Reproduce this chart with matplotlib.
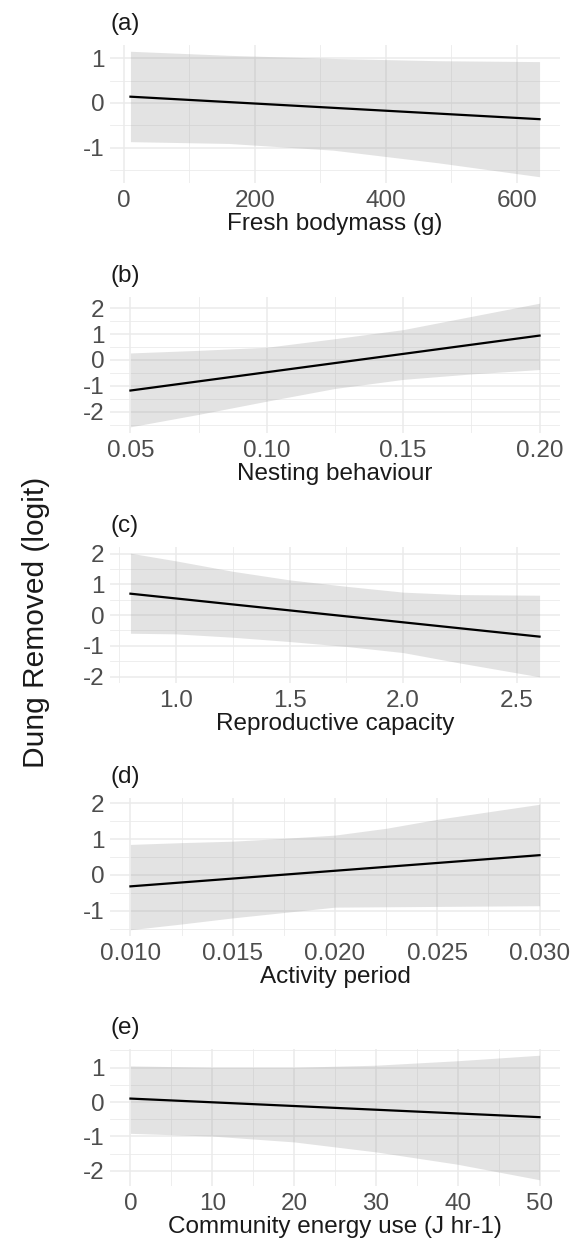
import matplotlib
matplotlib.use("Agg")
import matplotlib.pyplot as plt
from matplotlib.ticker import MultipleLocator, FormatStrFormatter

plt.rcParams['font.family'] = ['Liberation Sans', 'DejaVu Sans']
plt.rcParams['axes.unicode_minus'] = False

# (a) fresh bodymass
mass_x = [10, 160, 320, 480, 635]
mass_lo = [-0.86, -0.90, -1.05, -1.33, -1.64]
mass_hi = [1.15, 1.06, 0.99, 0.94, 0.92]
mass_line_x = [10, 635]
mass_fit = [0.14, -0.36]

# (b) nesting behaviour
nest_x = [0.05, 0.075, 0.10, 0.125, 0.15, 0.175, 0.20]
nest_lo = [-2.58, -2.10, -1.59, -1.10, -0.75, -0.54, -0.37]
nest_hi = [0.27, 0.37, 0.49, 0.82, 1.17, 1.68, 2.19]
nest_line_x = [0.05, 0.20]
nest_fit = [-1.18, 0.94]

# (c) reproductive capacity
repro_x = [0.8, 1.0, 1.25, 1.5, 1.75, 2.0, 2.25, 2.6]
repro_lo = [-0.59, -0.61, -0.72, -0.86, -1.02, -1.22, -1.56, -2.01]
repro_hi = [2.02, 1.77, 1.43, 1.15, 0.94, 0.75, 0.67, 0.65]
repro_line_x = [0.8, 2.6]
repro_fit = [0.70, -0.70]

# (d) activity period
act_x = [0.010, 0.0125, 0.015, 0.0175, 0.020, 0.0225, 0.025, 0.0275, 0.030]
act_lo = [-1.53, -1.37, -1.20, -1.05, -0.90, -0.89, -0.88, -0.87, -0.86]
act_hi = [0.85, 0.90, 0.94, 1.02, 1.11, 1.30, 1.55, 1.76, 1.97]
act_line_x = [0.010, 0.030]
act_fit = [-0.32, 0.55]

# (e) community energy use
energy_x = [0, 10, 20, 30, 40, 50]
energy_lo = [-0.91, -0.99, -1.16, -1.45, -1.81, -2.26]
energy_hi = [1.05, 1.01, 1.01, 1.07, 1.20, 1.36]
energy_line_x = [0, 50]
energy_fit = [0.10, -0.44]

panels = [
    ("(a)", "Fresh bodymass (g)", mass_x, mass_lo, mass_hi, mass_line_x, mass_fit, 200, "%g"),
    ("(b)", "Nesting behaviour", nest_x, nest_lo, nest_hi, nest_line_x, nest_fit, 0.05, "%.2f"),
    ("(c)", "Reproductive capacity", repro_x, repro_lo, repro_hi, repro_line_x, repro_fit, 0.5, "%.1f"),
    ("(d)", "Activity period", act_x, act_lo, act_hi, act_line_x, act_fit, 0.005, "%.3f"),
    ("(e)", "Community energy use (J hr-1)", energy_x, energy_lo, energy_hi, energy_line_x, energy_fit, 10, "%g"),
]

W, H = 573, 1247
# panel tops / bottoms in pixels
tops = [45, 297, 547, 798, 1049]
bottoms = [183, 433, 683, 936, 1186]
left, right = 110, 560

fig = plt.figure(figsize=(W / 100, H / 100), dpi=100)

for i, (tag, xlabel, x, lo, hi, lx, fit, xstep, fmt) in enumerate(panels):
    ax = fig.add_axes([left / W, 1 - bottoms[i] / H, (right - left) / W, (bottoms[i] - tops[i]) / H])
    ax.fill_between(x, lo, hi, color='#999999', alpha=0.27, linewidth=0, zorder=2)
    ax.plot(lx, fit, color='black', linewidth=1.6, zorder=3)

    # ggplot-like 5% expansion
    xmin, xmax = min(x + lx), max(x + lx)
    ymin, ymax = min(lo + fit), max(hi + fit)
    px = 0.05 * (xmax - xmin)
    py = 0.05 * (ymax - ymin)
    ax.set_xlim(xmin - px, xmax + px)
    ax.set_ylim(ymin - py, ymax + py)

    ax.xaxis.set_major_locator(MultipleLocator(xstep))
    ax.xaxis.set_minor_locator(MultipleLocator(xstep / 2))
    ax.xaxis.set_major_formatter(FormatStrFormatter(fmt))
    ax.yaxis.set_major_locator(MultipleLocator(1))
    ax.yaxis.set_minor_locator(MultipleLocator(0.5))

    ax.grid(which='major', color='#EBEBEB', linewidth=1.1, zorder=0)
    ax.grid(which='minor', color='#EBEBEB', linewidth=0.6, zorder=0)
    ax.set_axisbelow(True)
    for s in ax.spines.values():
        s.set_visible(False)
    ax.tick_params(which='both', length=0, labelsize=17.5, labelcolor='#4D4D4D')
    ax.tick_params(axis='x', pad=5)
    ax.tick_params(axis='y', pad=4)
    ax.set_xlabel(xlabel, fontsize=17.5, color='#1A1A1A', labelpad=1)

    fig.text(left / W, 1 - (tops[i] - 15) / H, tag, fontsize=17.5, color='#1A1A1A',
             ha='left', va='baseline')

fig.text(36 / W, 1 - 622 / H, "Dung Removed (logit)", rotation=90, fontsize=21.5,
         color='#1A1A1A', ha='center', va='center')

fig.savefig("out.png", dpi=100, facecolor='white')
